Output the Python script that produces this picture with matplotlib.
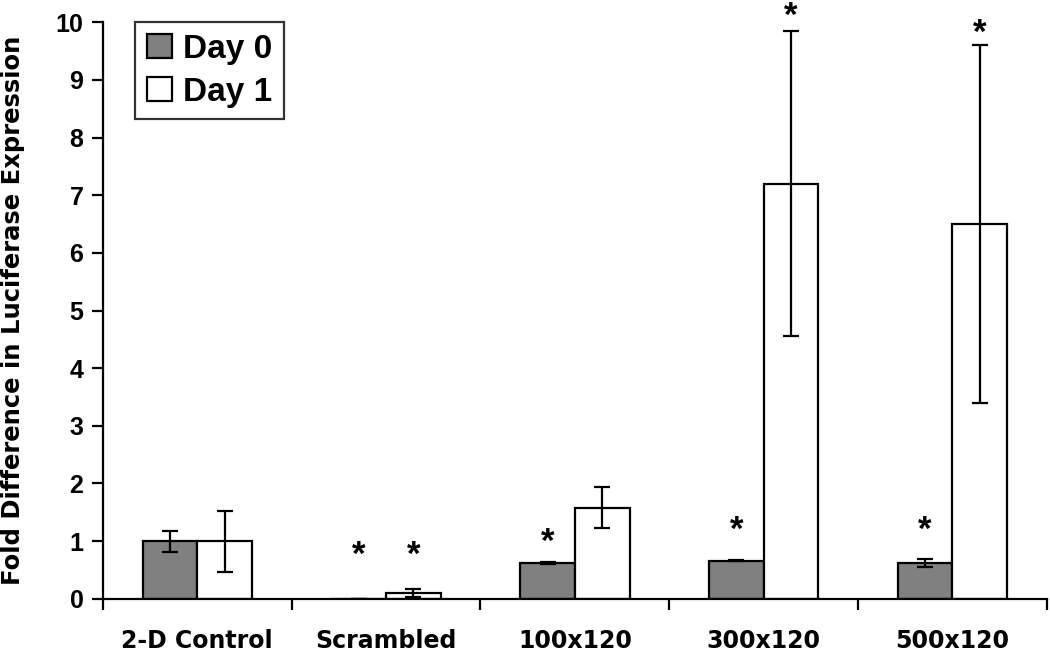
import matplotlib
matplotlib.use("Agg")
import matplotlib.pyplot as plt
import numpy as np

categories = ["2-D Control", "Scrambled", "100x120", "300x120", "500x120"]
day0 = [1.0, 0.0, 0.62, 0.66, 0.62]
day0_err = [0.18, 0.0, 0.02, 0.01, 0.07]
day1 = [1.0, 0.10, 1.58, 7.2, 6.5]
day1_err = [0.53, 0.07, 0.36, 2.65, 3.1]
# significance stars, y position per category (None = no star)
stars0 = [None, 0.76, 0.98, 1.19, 1.19]
stars1 = [None, 0.76, None, 10.1, 9.8]

fig = plt.figure(figsize=(10.5, 6.53), dpi=100)
ax = fig.add_axes([0.098, 0.083, 0.899, 0.883])

x = np.arange(len(categories))
w = 0.29
ekw = dict(elinewidth=1.6, capthick=1.6, ecolor='black')
ax.bar(x - w/2, day0, w, yerr=day0_err, color='#808080', edgecolor='black',
       linewidth=1.6, capsize=6, error_kw=ekw, label='Day 0')
ax.bar(x + w/2, day1, w, yerr=day1_err, color='white', edgecolor='black',
       linewidth=1.6, capsize=6, error_kw=ekw, label='Day 1')

for i in range(len(categories)):
    if stars0[i] is not None:
        ax.text(x[i] - w/2, stars0[i], '*', ha='center', va='center',
                fontsize=25, fontweight='bold', family='Liberation Sans', clip_on=False)
    if stars1[i] is not None:
        ax.text(x[i] + w/2, stars1[i], '*', ha='center', va='center',
                fontsize=25, fontweight='bold', family='Liberation Sans', clip_on=False)

ax.set_xlim(-0.5, 4.5)
ax.set_ylim(0, 10)
ax.set_yticks(np.arange(0, 11, 1))
ax.set_yticklabels([str(v) for v in range(11)], fontsize=18, fontweight='bold',
                   family='Liberation Sans')
ax.set_xticks(np.arange(-0.5, 5, 1))
ax.set_xticklabels([])
ax.set_xticks(x, minor=True)
ax.set_xticklabels(categories, minor=True, fontsize=17, fontweight='bold',
                   family='DejaVu Sans')
ax.tick_params(axis='x', which='minor', length=0, pad=22)
ax.tick_params(axis='x', which='major', length=8, width=1.6, direction='out')
ax.tick_params(axis='y', length=8, width=1.6, direction='out', pad=6)

for s in ['top', 'right']:
    ax.spines[s].set_visible(False)
for s in ['left', 'bottom']:
    ax.spines[s].set_linewidth(1.6)

ax.set_ylabel('Fold Difference in Luciferase Expression', fontsize=17.5,
              fontweight='bold', family='DejaVu Sans')
ax.yaxis.set_label_coords(-0.083, 0.5)

leg = ax.legend(loc='upper left', bbox_to_anchor=(0.034, 1.0), borderaxespad=0,
                prop={'family': 'Liberation Sans', 'weight': 'bold', 'size': 24},
                frameon=True, fancybox=False, edgecolor='black',
                handlelength=0.75, handleheight=0.75, handletextpad=0.35,
                borderpad=0.35, labelspacing=0.35)
leg.get_frame().set_linewidth(1.6)

fig.savefig('out.png', dpi=100)
